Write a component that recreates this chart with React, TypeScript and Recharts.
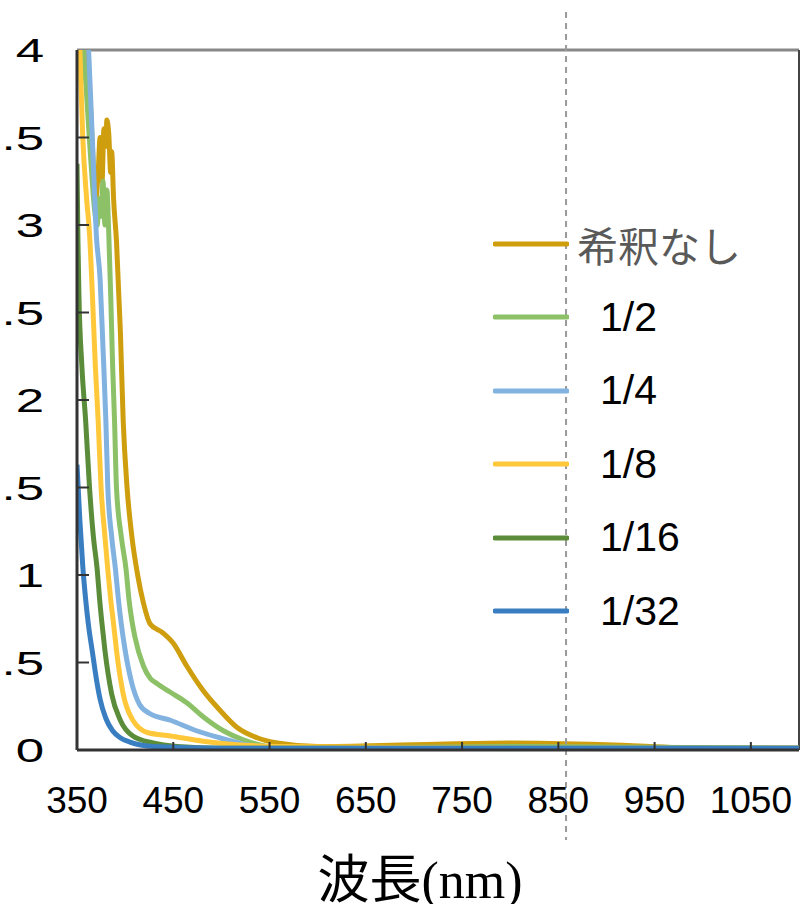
import React from 'react';
import { LineChart, Line, XAxis, YAxis, ReferenceLine, Legend, Label } from 'recharts';

const seriesNames = ['希釈なし', '1/2', '1/4', '1/8', '1/16', '1/32'];
const seriesColors = ['#CE9E0E', '#8CC168', '#82B2E0', '#FFC83A', '#5A8C3A', '#3A7EC2'];

const wavelengthTicks = [350, 450, 550, 650, 750, 850, 950, 1050];
const absTicks = [0, 0.5, 1, 1.5, 2, 2.5, 3, 3.5, 4];
const cutoffNm = 858;

// 希釈なし
const nmUndiluted = [350, 356, 362, 366, 369, 372, 374, 376, 378, 380, 381, 383, 385, 386, 388, 391, 395, 398, 402, 407, 413, 419, 426, 439, 450, 464, 481, 498, 516, 537, 558, 600, 700, 800, 900, 1000, 1100];
const absUndiluted = [4.4, 4.3, 3.9, 3.45, 3.13, 3.3, 3.5, 3.25, 3.55, 3.45, 3.6, 3.52, 3.3, 3.42, 3.15, 2.91, 2.4, 1.88, 1.5, 1.22, 1.0, 0.84, 0.72, 0.67, 0.61, 0.48, 0.34, 0.23, 0.13, 0.07, 0.04, 0.02, 0.03, 0.04, 0.03, 0.01, 0.01];

// 1/2
const nmHalf = [350, 358, 364, 368, 371, 373, 375, 377, 379, 381, 383, 385, 387, 389, 391, 396, 401, 404, 407, 410, 419, 426, 433, 447, 464, 481, 502, 522, 550, 600, 800, 1100];
const absHalf = [4.3, 3.9, 3.4, 3.1, 3.0, 3.15, 3.05, 3.25, 3.0, 3.2, 2.95, 2.6, 2.2, 1.88, 1.5, 1.22, 1.03, 0.86, 0.74, 0.65, 0.48, 0.41, 0.38, 0.33, 0.27, 0.19, 0.11, 0.06, 0.02, 0.01, 0.02, 0.01];

// 1/4
const nmQuarter = [350, 360, 364, 367, 370, 374, 377, 380, 382, 386, 390, 393, 396, 400, 407, 415, 425, 447, 474, 498, 526, 570, 800, 1100];
const absQuarter = [4.5, 4.2, 3.75, 3.35, 2.95, 2.69, 2.3, 1.88, 1.5, 1.22, 1.03, 0.86, 0.72, 0.57, 0.38, 0.26, 0.21, 0.17, 0.11, 0.07, 0.03, 0.01, 0.01, 0.01];

// 1/8
const nmEighth = [350, 353, 356, 360, 363, 366, 369, 372, 375, 379, 382, 385, 388, 391, 398, 408, 423, 447, 481, 516, 560, 800, 1100];
const absEighth = [4.5, 4.0, 3.5, 3.15, 2.95, 2.6, 2.2, 1.88, 1.5, 1.22, 1.03, 0.86, 0.72, 0.57, 0.32, 0.17, 0.1, 0.08, 0.05, 0.03, 0.02, 0.01, 0.01];

// 1/16
const nmSixteenth = [350, 351, 352, 355, 359, 363, 367, 371, 373.5, 376, 379, 386, 395, 408, 429, 454, 500, 800, 1100];
const absSixteenth = [3.35, 2.9, 2.6, 2.2, 1.88, 1.5, 1.22, 1.03, 0.86, 0.72, 0.57, 0.32, 0.17, 0.08, 0.04, 0.02, 0.01, 0.01, 0.01];

// 1/32
const nmThirtySecond = [350, 353, 356, 359, 362, 366, 370, 374, 380, 387, 395, 405, 429, 500, 800, 1100];
const absThirtySecond = [1.63, 1.31, 1.05, 0.86, 0.71, 0.56, 0.41, 0.29, 0.18, 0.11, 0.07, 0.045, 0.02, 0.01, 0.01, 0.01];

const toPoints = (nm: number[], abs: number[]) => nm.map((x, i) => ({ nm: x, abs: abs[i] }));

const series = [
  toPoints(nmUndiluted, absUndiluted),
  toPoints(nmHalf, absHalf),
  toPoints(nmQuarter, absQuarter),
  toPoints(nmEighth, absEighth),
  toPoints(nmSixteenth, absSixteenth),
  toPoints(nmThirtySecond, absThirtySecond),
].map((data, i) => ({ name: seriesNames[i], color: seriesColors[i], data }));

const sans = '"Liberation Sans", Arial, sans-serif';

const XTick = ({ x, y, payload }: any) => (
  <g>
    {payload.value !== 350 && <line x1={x} x2={x} y1={y} y2={y - 8} stroke="#333" strokeWidth={2} />}
    <text x={x} y={y + 63} textAnchor="middle" fontSize={37} fill="#000" fontFamily={sans}>
      {payload.value}
    </text>
  </g>
);

// the source image is cropped on the left (and stretched), so "3.5" only shows ".5"
const YTick = ({ x, y, payload }: any) => (
  <g>
    {payload.value !== 0 && payload.value !== 4 && <line x1={x} x2={x + 12} y1={y} y2={y} stroke="#333" strokeWidth={2} />}
    <text
      x={0}
      y={0}
      transform={`translate(44, ${y + 12}) scale(1.5, 1)`}
      textAnchor="end"
      fontSize={34}
      fill="#000"
      fontFamily={sans}
    >
      {payload.value}
    </text>
  </g>
);

const LegendBox = () => (
  <div style={{ fontFamily: sans }}>
    {series.map((s, i) => (
      <div key={s.name} style={{ height: 73.5, display: 'flex', alignItems: 'center' }}>
        <svg width={76} height={8}>
          <line x1={2} x2={74} y1={4} y2={4} stroke={s.color} strokeWidth={5} strokeLinecap="round" />
        </svg>
        <span
          style={{
            marginLeft: i === 0 ? 8 : 31,
            fontSize: 41,
            color: i === 0 ? '#595959' : '#000',
            fontFamily: i === 0 ? '"Noto Sans CJK JP", sans-serif' : sans,
            whiteSpace: 'nowrap',
          }}
        >
          {s.name}
        </span>
      </div>
    ))}
  </div>
);

const CutoffLine = (p: any) => (
  <line x1={p.x1} x2={p.x2} y1={12} y2={840} stroke="#999" strokeWidth={2} strokeDasharray="6 5" />
);

export default function App() {
  return (
    <div style={{ position: 'absolute', left: 0, top: 0, width: 807, height: 904, background: '#fff' }}>
      <LineChart width={807} height={904} margin={{ top: 50, right: 8, bottom: 0, left: 0 }}>
        <XAxis
          dataKey="nm"
          type="number"
          domain={[350, 1100]}
          ticks={wavelengthTicks}
          allowDataOverflow
          height={154}
          tickSize={0}
          tickMargin={0}
          tick={<XTick />}
          axisLine={{ stroke: '#333', strokeWidth: 3 }}
        >
          <Label
            content={({ viewBox }: any) => (
              <text x={viewBox.x + viewBox.width / 2 - 18} y={898} textAnchor="middle" fontSize={52} fill="#000">
                <tspan fontFamily='"Noto Sans CJK JP", sans-serif'>波長</tspan>
                <tspan fontFamily='"Liberation Serif", serif'>(nm)</tspan>
              </text>
            )}
          />
        </XAxis>
        <YAxis
          dataKey="abs"
          type="number"
          domain={[0, 4]}
          ticks={absTicks}
          allowDataOverflow
          width={77}
          tickSize={0}
          tickMargin={0}
          tick={<YTick />}
          axisLine={{ stroke: '#333', strokeWidth: 3 }}
        />
        <ReferenceLine y={4} stroke="#888" strokeWidth={3} />
        <ReferenceLine x={1100} stroke="#444" strokeWidth={2} />
        {series.map((s) => (
          <Line
            key={s.name}
            data={s.data}
            dataKey="abs"
            name={s.name}
            type="monotone"
            stroke={s.color}
            strokeWidth={5}
            dot={false}
            isAnimationActive={false}
          />
        ))}
        <ReferenceLine x={cutoffNm} shape={<CutoffLine />} />
        <Legend
          layout="horizontal"
          verticalAlign="middle"
          align="center"
          content={<LegendBox />}
          wrapperStyle={{ position: 'absolute', left: 493, top: 207, width: 280 }}
        />
      </LineChart>
    </div>
  );
}
